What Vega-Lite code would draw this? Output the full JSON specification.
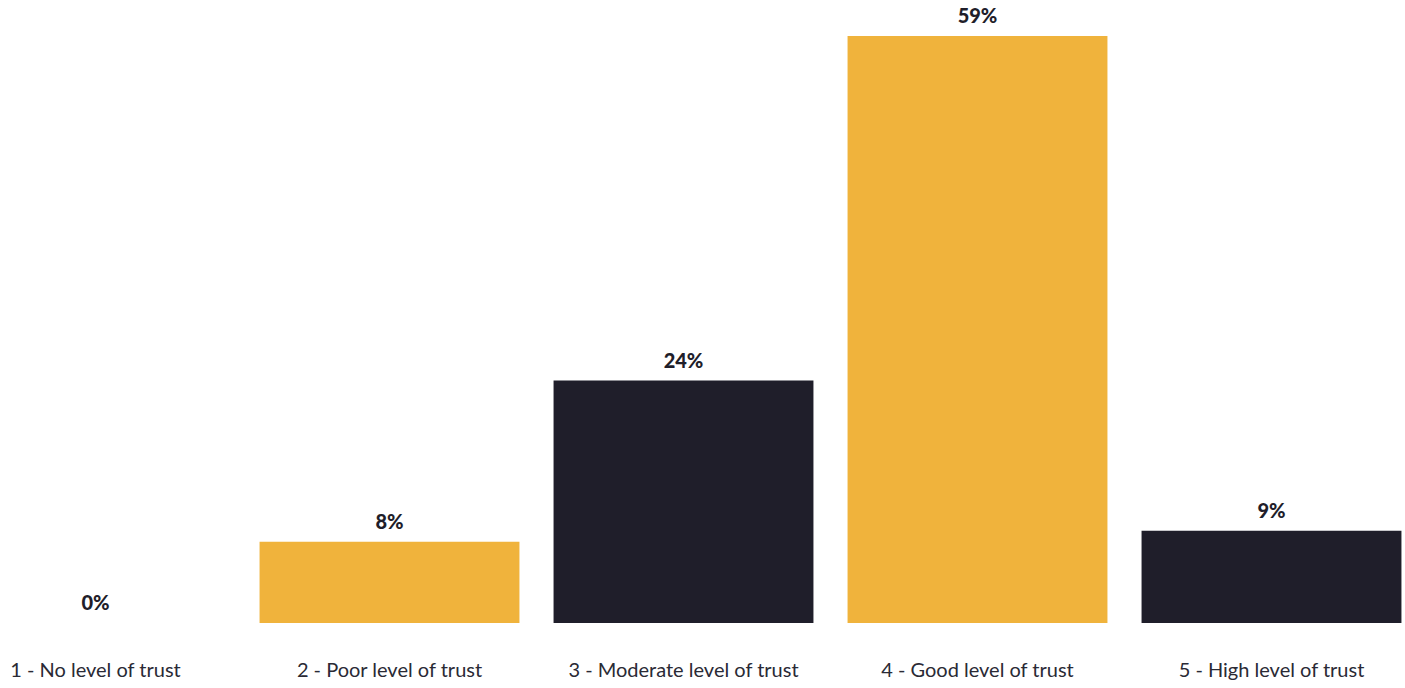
{
  "$schema": "https://vega.github.io/schema/vega-lite/v6.json",
  "width": 1405,
  "height": 587,
  "autosize": {"type": "none"},
  "padding": {"top": 36, "bottom": 65, "left": 0, "right": 0},
  "background": "#ffffff",
  "config": {"view": {"stroke": null}, "font": "Lato"},
  "data": {
    "values": [
      {"level": "1 - No level of trust", "share": 0.0, "group": "a"},
      {"level": "2 - Poor level of trust", "share": 0.081, "group": "a"},
      {"level": "3 - Moderate level of trust", "share": 0.242, "group": "b"},
      {"level": "4 - Good level of trust", "share": 0.586, "group": "a"},
      {"level": "5 - High level of trust", "share": 0.092, "group": "b"}
    ]
  },
  "encoding": {
    "x": {
      "field": "level",
      "type": "nominal",
      "sort": null,
      "scale": {"range": [-51.5, 1418.5], "paddingInner": 0.116, "paddingOuter": 0.058},
      "axis": {
        "title": null,
        "labelAngle": 0,
        "domain": false,
        "ticks": false,
        "labelFontSize": 20,
        "labelColor": "#2a2a35",
        "labelPadding": 37,
        "labelLimit": 0,
        "labelFont": "Lato"
      }
    },
    "y": {
      "field": "share",
      "type": "quantitative",
      "scale": {"domain": [0, 0.586], "nice": false},
      "axis": null
    }
  },
  "layer": [
    {
      "mark": {"type": "bar"},
      "encoding": {
        "color": {
          "field": "group",
          "type": "nominal",
          "scale": {"domain": ["a", "b"], "range": ["#F0B33C", "#1F1E2A"]},
          "legend": null
        }
      }
    },
    {
      "mark": {"type": "text", "baseline": "alphabetic", "dy": -13, "fontSize": 20, "fontWeight": 900, "color": "#1F1E2A", "font": "Lato"},
      "encoding": {
        "text": {"field": "share", "type": "quantitative", "format": ".0%"}
      }
    }
  ]
}
